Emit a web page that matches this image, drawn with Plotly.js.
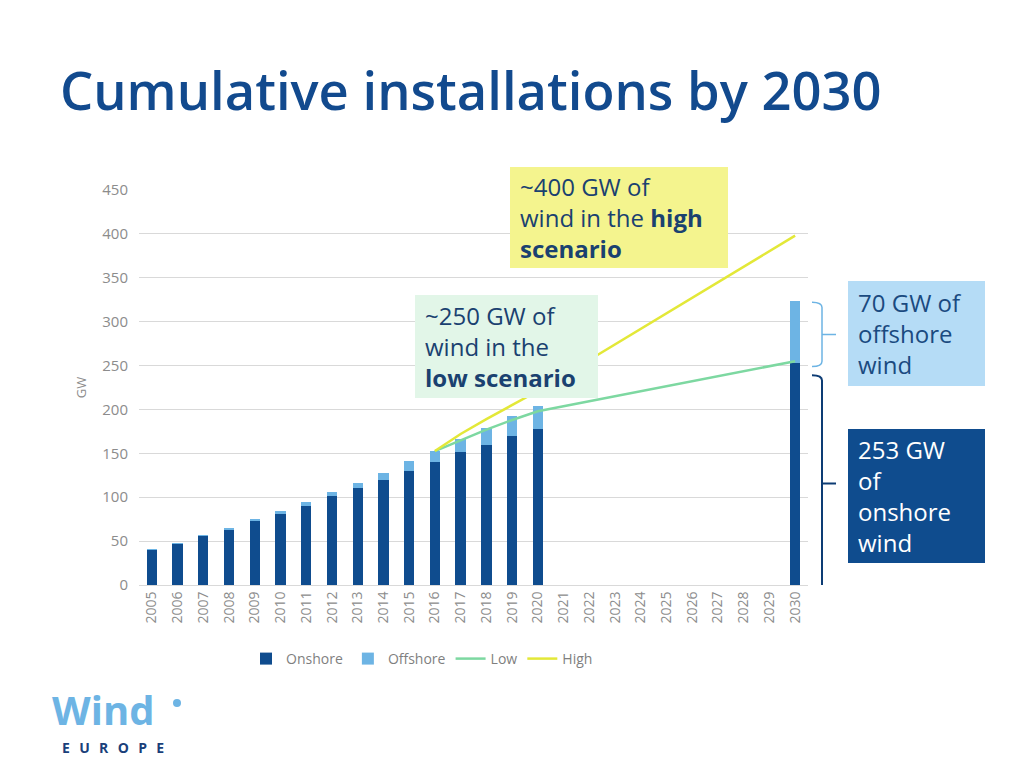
<!DOCTYPE html>
<html>
<head>
<meta charset="utf-8">
<script src="https://cdn.plot.ly/plotly-3.0.1.min.js"></script>
<style>
  html, body { margin: 0; padding: 0; background: #ffffff; }
  #chart { width: 1024px; height: 768px; }
</style>
</head>
<body>
<div id="chart"></div>
<script>
// ---- data ----
const years = ['2005','2006','2007','2008','2009','2010','2011','2012','2013','2014','2015','2016','2017','2018','2019','2020','2021','2022','2023','2024','2025','2026','2027','2028','2029','2030'];
const onshore = [40, 47, 56, 63, 73, 81, 90, 101, 110, 120, 130, 140, 151, 160, 170, 178, null, null, null, null, null, null, null, null, null, 253];
const offshore = [0.5, 0.8, 1, 1.5, 2, 3, 4, 5, 6.5, 8, 11, 12.6, 15, 19, 23, 26, null, null, null, null, null, null, null, null, null, 70];
const lowYears = ['2016','2017','2018','2019','2020','2030'];
const lowValues = [152.6, 165, 177, 188, 198, 255];
const highYears = ['2016','2017','2018','2019','2020','2030'];
const highValues = [152.6, 172, 189, 205, 221, 398];
const seriesNames = ['Onshore', 'Offshore', 'Low', 'High'];
const yTitle = 'GW';
const chartTitle = 'Cumulative installations by 2030';

// ---- layout helpers (pixel -> paper) ----
const L = 139, R = 808, T = 190, B = 585;
const W = 1024, H = 768;
const px = x => (x - L) / (R - L);
const py = y => (B - y) / (B - T);

const FONT = '"Open Sans", "Noto Sans", sans-serif';
const NAVY = '#0f4c8e';
const LIGHT = '#6db4e4';
const GREEN = '#7dd8a1';
const YELLOW = '#e3e838';

const traces = [
  { type: 'bar', name: seriesNames[0], x: years, y: onshore, marker: { color: NAVY }, hoverinfo: 'skip' },
  { type: 'bar', name: seriesNames[1], x: years, y: offshore, marker: { color: LIGHT }, hoverinfo: 'skip' },
  { type: 'scatter', mode: 'lines', name: seriesNames[2], x: lowYears, y: lowValues, line: { color: GREEN, width: 2.5 }, hoverinfo: 'skip' },
  { type: 'scatter', mode: 'lines', name: seriesNames[3], x: highYears, y: highValues, line: { color: YELLOW, width: 2.5 }, hoverinfo: 'skip' }
];

// brace builder: x in paper, y in data
function brace(yTop, yBot, color, width) {
  const x0 = px(812), x1 = px(822), xt = px(836);
  const r = 6;
  const yM = (yTop + yBot) / 2;
  const path = `M ${x0},${yTop} Q ${x1},${yTop} ${x1},${yTop - r} L ${x1},${yBot + r} Q ${x1},${yBot} ${x0},${yBot} M ${x1},${yM} L ${xt},${yM}`;
  return { type: 'path', xref: 'paper', yref: 'y', path: path, line: { color: color, width: width } };
}

const off2030 = offshore[offshore.length - 1];
const on2030 = onshore[onshore.length - 1];

const shapes = [
  brace(on2030 + off2030 - 1, on2030 - 4, LIGHT, 1.5),
  brace(on2030 - 14, -8, '#0d3c74', 2),
  { type: 'circle', xref: 'paper', yref: 'paper', x0: px(173), x1: px(181), y0: py(707), y1: py(699), fillcolor: LIGHT, line: { width: 0 } }
];

function box(text, left, top, right, bottom, bg, color) {
  const pad = 10;
  return {
    xref: 'paper', yref: 'paper', x: px(left), y: py(top), xanchor: 'left', yanchor: 'top',
    text: text, showarrow: false, align: 'left', valign: 'middle',
    width: right - left - 2 * pad, height: bottom - top - 2 * pad, borderpad: pad, borderwidth: 0,
    bgcolor: bg, font: { family: FONT, size: 24, color: color }
  };
}

const sp = '\u2002\u2006';
const annotations = [
  box('~400 GW of<br>wind in the <b>high</b><br><b>scenario</b>', 510, 167, 728, 268, '#f4f48e', '#1a4170'),
  box('~250 GW of<br>wind in the<br><b>low scenario</b>', 415, 295, 598, 398, '#e2f6e8', '#1a4170'),
  box('70 GW of<br>offshore<br>wind', 848, 281, 985, 386, '#b5dcf6', '#1a4a80'),
  box('253 GW<br>of<br>onshore<br>wind', 848, 429, 985, 563, '#0f4c8e', '#ffffff'),
  { xref: 'paper', yref: 'paper', x: px(50), y: py(709), xanchor: 'left', yanchor: 'middle', showarrow: false,
    text: '<b>Wind</b>', font: { family: FONT, size: 40, color: LIGHT } },
  { xref: 'paper', yref: 'paper', x: px(60), y: py(747), xanchor: 'left', yanchor: 'middle', showarrow: false,
    text: '<b>' + ['E','U','R','O','P','E'].join(sp) + '</b>', font: { family: FONT, size: 14, color: '#1a3f7a' } }
];

const layout = {
  width: W, height: H,
  paper_bgcolor: '#ffffff', plot_bgcolor: '#ffffff',
  margin: { l: L, r: W - R, t: T, b: H - B, pad: 0 },
  font: { family: FONT, color: '#808080' },
  title: {
    text: chartTitle, x: 60 / W, xanchor: 'left', xref: 'container', y: 1 - 92 / H, yanchor: 'middle', yref: 'container',
    font: { family: FONT, size: 52.5, color: '#124a8e', weight: 600 }
  },
  barmode: 'stack', bargap: 0.6,
  showlegend: true,
  legend: { orientation: 'h', x: px(246), y: py(659), xanchor: 'left', yanchor: 'middle',
    font: { family: FONT, size: 14, color: '#7f7f7f' }, bgcolor: 'rgba(0,0,0,0)', traceorder: 'normal' },
  xaxis: {
    type: 'category', categoryorder: 'array', categoryarray: years,
    tickangle: -90, tickfont: { family: FONT, size: 14, color: '#8c8c8c' },
    showgrid: false, showline: true, linecolor: '#d9d9d9', linewidth: 1, ticks: '', automargin: false
  },
  yaxis: {
    range: [0, 450], dtick: 50, tick0: 0, gridcolor: '#d9d9d9', gridwidth: 1, zeroline: false,
    showline: false, ticks: '', ticklabelstandoff: 10,
    tickfont: { family: FONT, size: 15, color: '#8c8c8c' },
    title: { text: yTitle, font: { family: FONT, size: 13, color: '#8c8c8c' }, standoff: 12 },
    automargin: false
  },
  shapes: shapes,
  annotations: annotations
};

Plotly.newPlot('chart', traces, layout, { displayModeBar: false, staticPlot: true });
</script>
</body>
</html>
